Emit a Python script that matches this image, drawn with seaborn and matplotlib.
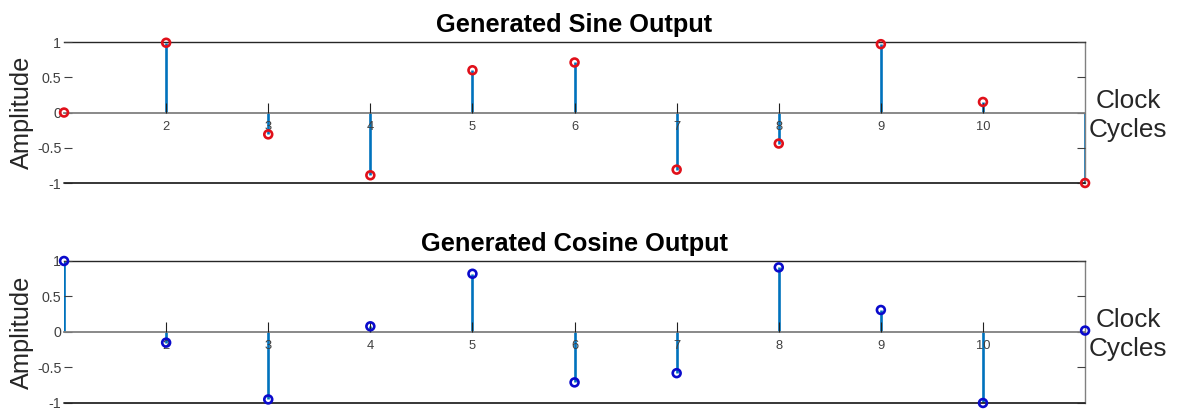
import numpy as np
import pandas as pd
import seaborn as sns
import matplotlib.pyplot as plt

# clock cycle index and the two sampled outputs
cycles = [1, 2, 3, 4, 5, 6, 7, 8, 9, 10, 11]
sineVals = [0.0, 0.99, -0.31, -0.89, 0.6, 0.71, -0.81, -0.44, 0.97, 0.15, -1.0]
cosineVals = [1.0, -0.15, -0.95, 0.08, 0.82, -0.71, -0.58, 0.91, 0.31, -1.0, 0.02]
xTicks = [2, 3, 4, 5, 6, 7, 8, 9, 10]
yTicks = [-1, -0.5, 0, 0.5, 1]

sns.set_theme(style='white')
plt.rcParams['font.family'] = ['Liberation Sans', 'DejaVu Sans']

stemBlue = '#0072BD'
axGray = '#808080'
txtGray = '#404040'

fig = plt.figure(figsize=(11.77, 4.11), dpi=100)
axTop = fig.add_axes([0.0544, 0.5547, 0.8675, 0.343])
axBot = fig.add_axes([0.0544, 0.0195, 0.8675, 0.3455])


def stemPanel(ax, vals, markColor, title):
  df = pd.DataFrame({'cycle': cycles, 'amp': vals})
  ax.vlines(df['cycle'], 0, df['amp'], color=stemBlue, linewidth=1.9, zorder=2)
  sns.scatterplot(
    data=df, x='cycle', y='amp', ax=ax,
    marker='o', s=32, facecolors='none', edgecolor=markColor,
    linewidth=1.9, zorder=4, clip_on=False, legend=False
  )
  ax.set_xlim(1, 11)
  ax.set_ylim(-1, 1)
  ax.set_axisbelow(False)

  # x axis sits on the zero line, MATLAB style
  ax.spines['bottom'].set_position(('data', 0))
  ax.spines['bottom'].set_color(axGray)
  ax.spines['bottom'].set_linewidth(1.3)
  ax.spines['bottom'].set_zorder(3)
  ax.spines['left'].set_visible(False)
  ax.spines['top'].set_color('#262626')
  ax.spines['top'].set_linewidth(1.0)
  ax.spines['right'].set_color(axGray)
  ax.spines['right'].set_linewidth(1.0)
  # box line at the bottom of the frame
  ax.axhline(-1, color='#262626', linewidth=1.3, clip_on=False, zorder=3)

  ax.set_xticks(xTicks)
  ax.set_xticklabels([str(t) for t in xTicks])
  ax.tick_params(axis='x', direction='in', length=7, width=0.8, color='#202020',
                 labelsize=9.3, labelcolor=txtGray, pad=6, bottom=True)
  ax.set_yticks(yTicks)
  ax.set_yticklabels(['-1', '-0.5', '0', '0.5', '1'])
  ax.tick_params(axis='y', direction='in', length=6, width=0.8, color='#404040',
                 labelsize=10.3, labelcolor=txtGray, pad=2, left=True, right=True)
  ax.xaxis.set_zorder(3.5)

  ax.set_xlabel('')
  ax.set_ylabel('Amplitude', fontsize=18.3, color='#262626', labelpad=2)
  ax.set_title(title, fontsize=18.3, fontweight='bold', color='black', pad=7)
  ax.text(1.042, 0.48, 'Clock\nCycles', transform=ax.transAxes,
          ha='center', va='center', fontsize=18.8, color='#262626', linespacing=1.25)


stemPanel(axTop, sineVals, '#E0101A', 'Generated Sine Output')
stemPanel(axBot, cosineVals, '#0A0ACC', 'Generated Cosine Output')

plt.savefig('out.png', dpi=100)
plt.close()
